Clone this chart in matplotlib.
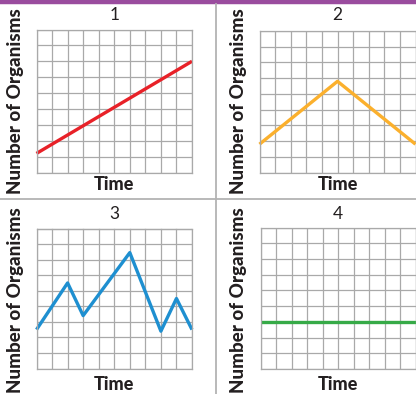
import matplotlib
matplotlib.use("Agg")
import matplotlib.pyplot as plt
from matplotlib.lines import Line2D

# data for the four population graphs (grid units: 10 columns of time, 9 rows of organisms)
titles = ["1", "2", "3", "4"]
x1 = [0, 10]
y1 = [1.2, 7.0]
x2 = [0, 5, 10]
y2 = [1.8, 5.8, 1.8]
x3 = [0, 2, 3, 6, 8, 9, 10]
y3 = [2.5, 5.5, 3.4, 7.45, 2.4, 4.5, 2.5]
x4 = [0, 10]
y4 = [3.0, 3.0]

series = [(x1, y1), (x2, y2), (x3, y3), (x4, y4)]
colors = ["#e82128", "#fbb02d", "#1e8fd0", "#36aa47"]

W, H = 416, 394
fig = plt.figure(figsize=(W / 100, H / 100), dpi=100)

# axes boxes in pixels: left, top, right, bottom
boxes = [(36.5, 29.5, 192, 172.5),
         (259.5, 31, 415.5, 172.5),
         (36.5, 228.5, 192, 368.5),
         (260.5, 227.5, 416, 369)]
# label positions in pixels
ylab_x = [16, 239, 16, 239]
ylab_y = [101, 101, 300, 300]
title_y = [15, 15, 214, 214]
time_y = [185, 185, 384, 384]

grid_col = "#a9a9a9"

for i, (l, t, r, b) in enumerate(boxes):
    ax = fig.add_axes([l / W, 1 - b / H, (r - l) / W, (b - t) / H])
    ax.set_xlim(0, 10)
    ax.set_ylim(0, 9)
    ax.set_xticks(range(11))
    ax.set_yticks(range(10))
    ax.tick_params(length=0, labelbottom=False, labelleft=False)
    ax.grid(True, color=grid_col, linewidth=0.9)
    ax.set_axisbelow(True)
    for s in ax.spines.values():
        s.set_color(grid_col)
        s.set_linewidth(0.9)
    x, y = series[i]
    ax.plot(x, y, color=colors[i], linewidth=2.4, solid_capstyle="butt", clip_on=False)

    cx = (l + r) / 2
    fig.text(cx / W, 1 - title_y[i] / H, titles[i], ha="center", va="center",
             fontsize=12.5, family="Lato", color="#231f20")
    fig.text(cx / W, 1 - time_y[i] / H, "Time", ha="center", va="center",
             fontsize=13, family="Lato", fontweight="black", color="#231f20")
    fig.text(ylab_x[i] / W, 1 - ylab_y[i] / H, "Number of Organisms", ha="center", va="center",
             rotation=90, fontsize=13.5, family="Lato", fontweight="black", color="#231f20")

# purple band on top and gray dividers
fig.add_artist(Line2D([0, 1], [1 - 2 / H, 1 - 2 / H], color="#9a4c9e", linewidth=3.2))
fig.add_artist(Line2D([0, 1], [1 - 199 / H, 1 - 199 / H], color="#b3b3b3", linewidth=1.3))
fig.add_artist(Line2D([216 / W, 216 / W], [0, 1 - 4 / H], color="#b3b3b3", linewidth=1.3))

fig.savefig("out.png", dpi=100)
